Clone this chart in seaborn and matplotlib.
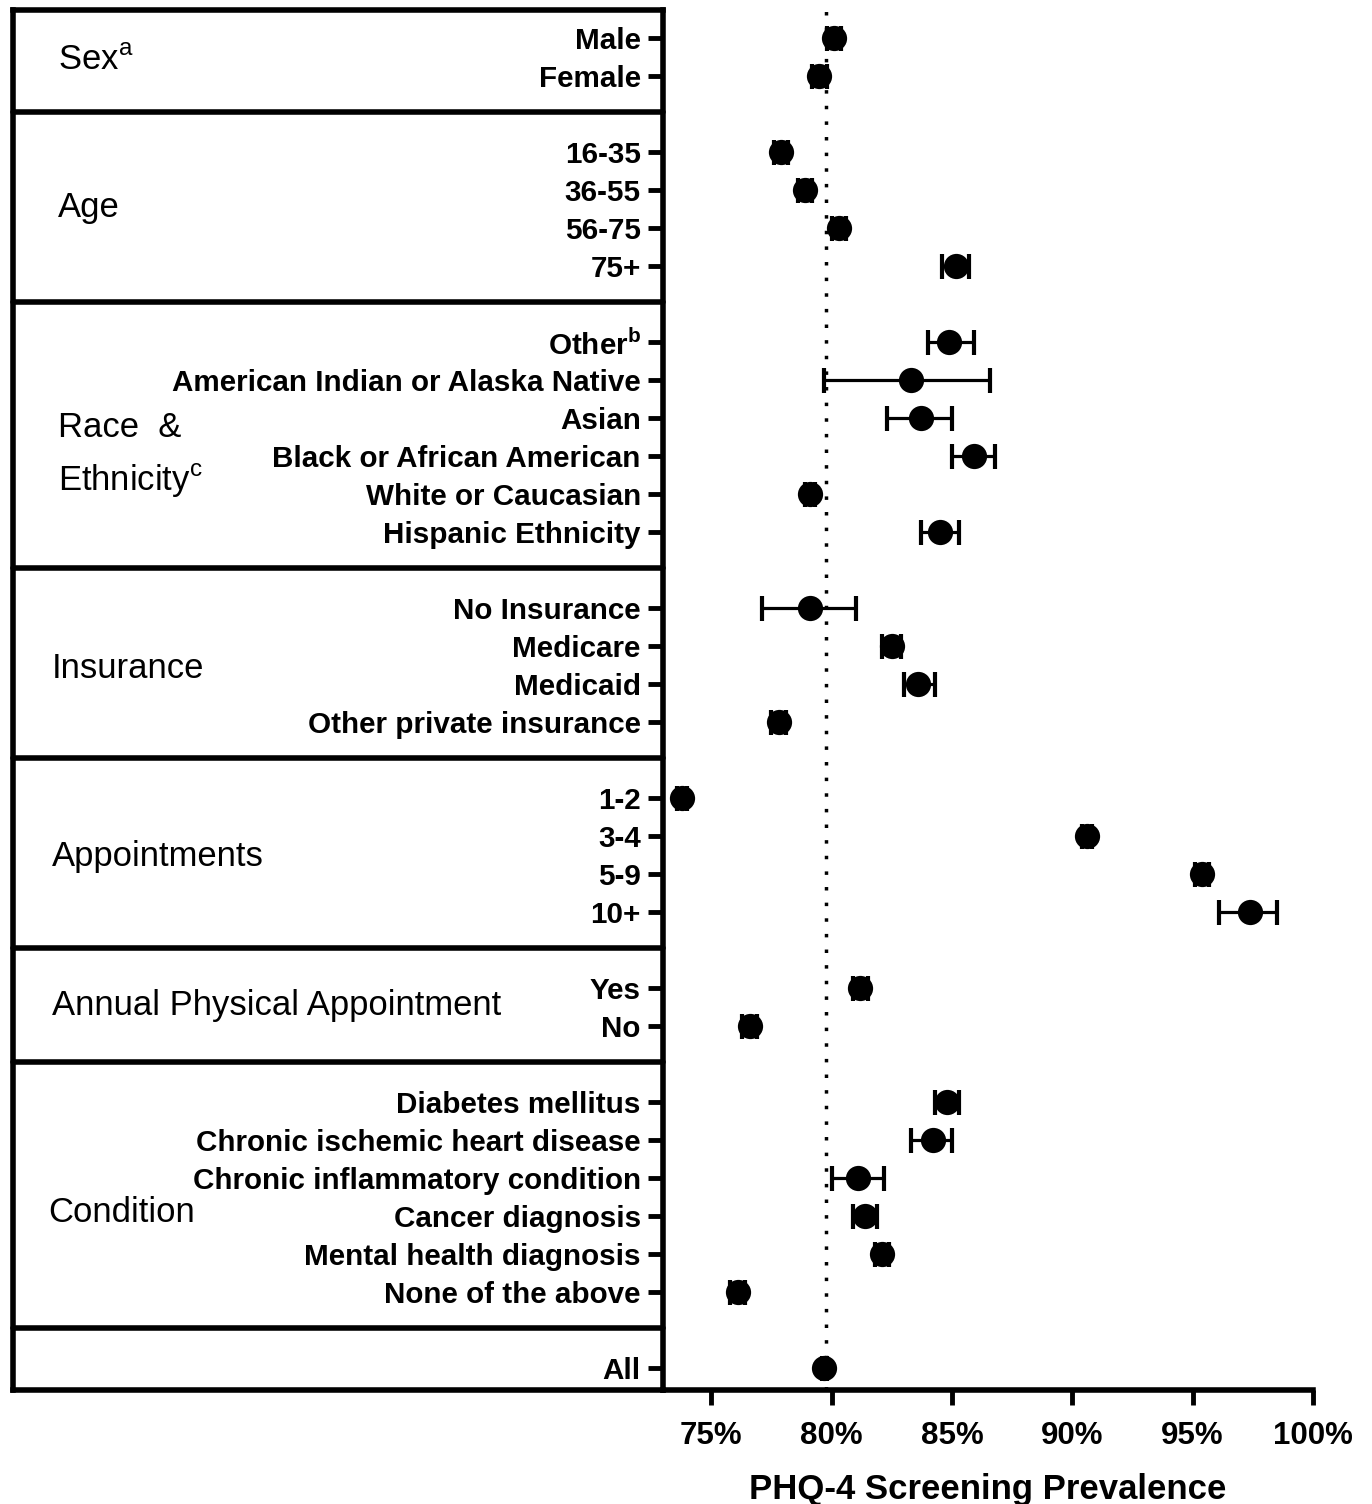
import numpy as np
import pandas as pd
import seaborn as sns
import matplotlib.pyplot as plt
from matplotlib.transforms import blended_transform_factory

# rows of the forest plot, top to bottom
labels = ["Male", "Female",
          "16-35", "36-55", "56-75", "75+",
          r"Other$^\mathregular{b}$", "American Indian or Alaska Native", "Asian",
          "Black or African American", "White or Caucasian", "Hispanic Ethnicity",
          "No Insurance", "Medicare", "Medicaid", "Other private insurance",
          "1-2", "3-4", "5-9", "10+",
          "Yes", "No",
          "Diabetes mellitus", "Chronic ischemic heart disease",
          "Chronic inflammatory condition", "Cancer diagnosis",
          "Mental health diagnosis", "None of the above",
          "All"]
group_sizes = [2, 4, 6, 4, 4, 2, 6, 1]
prevalence = [80.1, 79.5,
              77.9, 78.9, 80.3, 85.15,
              84.9, 83.3, 83.7, 85.9, 79.1, 84.5,
              79.1, 82.5, 83.6, 77.8,
              73.8, 90.6, 95.4, 97.4,
              81.2, 76.6,
              84.8, 84.2, 81.1, 81.4, 82.1, 76.1,
              79.7]
ci_low = [79.8, 79.2,
          77.6, 78.6, 80.0, 84.6,
          84.0, 79.7, 82.3, 85.0, 78.9, 83.7,
          77.1, 82.1, 83.0, 77.5,
          73.6, 90.4, 95.1, 96.1,
          80.9, 76.3,
          84.3, 83.3, 80.0, 80.9, 81.8, 75.8,
          79.6]
ci_high = [80.4, 79.8,
           78.2, 79.2, 80.6, 85.7,
           85.9, 86.6, 85.0, 86.8, 79.3, 85.3,
           81.0, 82.9, 84.3, 78.1,
           74.0, 90.8, 95.7, 98.5,
           81.5, 76.9,
           85.3, 85.0, 82.2, 81.9, 82.4, 76.4,
           79.8]
overall = 79.75

# row positions with an empty row between groups
ypos = []
y = 0
seps = []
for n in group_sizes:
    ypos.extend(range(y, y + n))
    y += n
    seps.append(y)
    y += 1
seps = seps[:-1]

df = pd.DataFrame({"label": labels, "prev": prevalence, "lo": ci_low,
                   "hi": ci_high, "y": ypos})

sns.set_style("white")
plt.rcParams['font.family'] = ['Liberation Sans', 'DejaVu Sans']
plt.rcParams.update({"text.color": "black", "axes.labelcolor": "black",
                     "xtick.color": "black", "ytick.color": "black"})

fig = plt.figure(figsize=(13.72, 15.04), dpi=100)
ax = fig.add_axes([663 / 1372, 114 / 1504, 650 / 1372, 1380 / 1504])

ax.axvline(overall, color="black", ls=(0, (1, 3.5)), lw=2.5, zorder=1)
ax.errorbar(df["prev"], df["y"],
            xerr=[df["prev"] - df["lo"], df["hi"] - df["prev"]],
            fmt="none", ecolor="black", elinewidth=2.3, capsize=9, capthick=3, zorder=2)
sns.scatterplot(data=df, x="prev", y="y", color="black", s=330, linewidth=0,
                ax=ax, zorder=3, legend=False)

ax.set_xlim(73, 100)
ax.set_ylim(35.58, -0.74)
ax.set_xticks([75, 80, 85, 90, 95, 100])
ax.set_xticklabels([f"{v}%" for v in [75, 80, 85, 90, 95, 100]],
                   fontweight="bold", fontsize=22.5)
ax.set_yticks(ypos)
ax.set_yticklabels(labels, fontweight="bold", fontsize=21.3)
ax.tick_params(axis="y", left=True, length=11, width=3.5, pad=5, color="black")
ax.tick_params(axis="x", bottom=True, length=11, width=3.5, pad=11, color="black")
ax.set_xlabel("PHQ-4 Screening Prevalence", fontweight="bold", fontsize=25, labelpad=16)
ax.set_ylabel("")

for side in ["top", "right"]:
    ax.spines[side].set_visible(False)
for side in ["left", "bottom"]:
    ax.spines[side].set_linewidth(4)
    ax.spines[side].set_color("black")

# left panel box with group separators
left_x = -1.0
ax.plot([left_x, 0], [1, 1], transform=ax.transAxes, color="black", lw=4,
        clip_on=False, solid_capstyle="projecting")
ax.plot([left_x, 0], [0, 0], transform=ax.transAxes, color="black", lw=4,
        clip_on=False, solid_capstyle="projecting")
ax.plot([left_x, left_x], [0, 1], transform=ax.transAxes, color="black", lw=4,
        clip_on=False, solid_capstyle="projecting")
trans = blended_transform_factory(ax.transAxes, ax.transData)
for s in seps:
    ax.plot([left_x, 0], [s - 0.05, s - 0.05], transform=trans, color="black", lw=4,
            clip_on=False)

group_text = [(r"Sex$^\mathregular{a}$", -0.931, 0.58),
              ("Age", -0.931, 4.47),
              ("Race  &", -0.931, 10.26),
              (r"Ethnicity$^\mathregular{c}$", -0.931, 11.66),
              ("Insurance", -0.940, 16.6),
              ("Appointments", -0.940, 21.55),
              ("Annual Physical Appointment", -0.940, 25.47),
              ("Condition", -0.946, 30.9)]
for txt, gx, gy in group_text:
    ax.text(gx, gy, txt, transform=trans, fontsize=24.9, ha="left", va="center")

fig.savefig("out.png", dpi=100)
